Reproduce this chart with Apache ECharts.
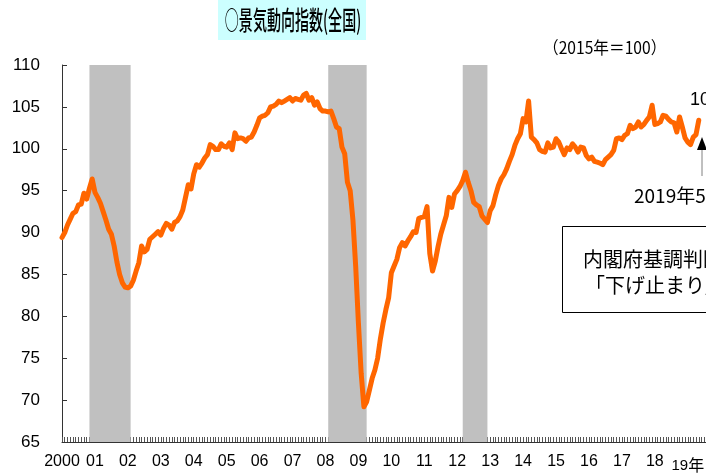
<!DOCTYPE html>
<html>
<head>
<meta charset="utf-8">
<script src="https://cdn.jsdelivr.net/npm/echarts@6/dist/echarts.min.js"></script>
<style>
  html, body { margin: 0; padding: 0; background: #fff; }
  #chart { width: 706px; height: 476px; }
</style>
</head>
<body>
<div id="chart"></div>
<script>
// 景気動向指数 CI一致指数 (2015年=100), monthly, 2000/01 - 2019/05
const y2000 = [89.4, 90.0, 90.9, 91.6, 92.3, 92.5, 93.3, 93.4, 94.7, 94.0, 95.3, 96.4]
const y2001 = [94.8, 94.2, 93.5, 92.5, 91.5, 90.4, 89.8, 88.4, 86.5, 85.0, 84.0, 83.5]
const y2002 = [83.4, 83.6, 84.3, 85.4, 86.4, 88.4, 87.7, 88.0, 89.2, 89.5, 89.8, 90.1]
const y2003 = [89.7, 90.5, 91.1, 90.9, 90.4, 91.2, 91.4, 91.9, 92.7, 94.2, 95.7, 95.2]
const y2004 = [97.0, 98.1, 97.8, 98.3, 98.9, 99.3, 100.5, 100.3, 99.9, 99.9, 100.6, 100.3]
const y2005 = [100.2, 100.7, 99.9, 101.9, 101.2, 101.3, 101.2, 100.9, 101.3, 101.4, 102.0, 102.8]
const y2006 = [103.7, 103.9, 104.0, 104.3, 105.0, 105.1, 105.3, 105.7, 105.5, 105.7, 105.9, 106.1]
const y2007 = [105.7, 106.0, 105.9, 105.8, 106.4, 106.6, 105.8, 106.1, 105.2, 105.6, 104.8, 104.5]
const y2008 = [104.5, 104.4, 104.5, 103.6, 102.6, 102.4, 100.2, 99.4, 96.0, 95.0, 91.5, 86.0]
const y2009 = [79.2, 73.2, 69.2, 69.8, 71.2, 72.6, 73.6, 75.0, 77.3, 79.2, 80.8, 82.2]
const y2010 = [85.2, 86.0, 86.8, 88.2, 88.8, 88.4, 89.0, 89.5, 90.1, 90.0, 91.7, 91.8]
const y2011 = [91.9, 93.1, 87.5, 85.4, 86.6, 88.3, 89.8, 90.9, 92.0, 94.2, 93.0, 94.6]
const y2012 = [95.0, 95.5, 96.2, 97.2, 96.0, 95.0, 93.6, 93.3, 93.1, 92.0, 91.6, 91.2]
const y2013 = [92.6, 93.2, 94.5, 95.6, 96.4, 96.9, 97.6, 98.5, 99.3, 100.4, 101.2, 101.8]
const y2014 = [103.6, 103.2, 105.7, 101.4, 101.1, 100.7, 99.9, 99.7, 99.6, 100.7, 100.1, 100.2]
const y2015 = [101.2, 100.8, 100.0, 99.3, 100.1, 99.9, 100.6, 100.2, 99.6, 100.2, 100.1, 99.2]
const y2016 = [98.8, 99.0, 98.5, 98.4, 98.3, 98.1, 98.7, 99.0, 99.3, 99.8, 101.2, 101.3]
const y2017 = [101.1, 101.6, 101.8, 102.8, 102.4, 102.6, 103.2, 102.6, 102.9, 103.4, 103.8, 105.2]
const y2018 = [102.9, 103.0, 103.2, 104.0, 103.9, 103.5, 103.2, 103.1, 102.0, 103.8, 102.6, 101.3]
const y2019 = [100.8, 100.5, 101.4, 101.7, 103.4]

const values = [].concat(y2000, y2001, y2002, y2003, y2004, y2005, y2006, y2007, y2008, y2009,
  y2010, y2011, y2012, y2013, y2014, y2015, y2016, y2017, y2018, y2019)

// x軸の年ラベル
const yearLabels = ['2000', '01', '02', '03', '04', '05', '06', '07', '08', '09',
  '10', '11', '12', '13', '14', '15', '16', '17', '18', '19年']

// 景気後退期 (山 - 谷)
const recessions = [['2000-11', '2002-02'], ['2008-02', '2009-04'], ['2012-03', '2012-12']]

const months = []
for (let y = 2000; y <= 2019; y++) {
  for (let m = 1; m <= 12; m++) {
    if (months.length < 236) months.push(y + '-' + (m < 10 ? '0' + m : m))
  }
}

const JP = '"Noto Sans CJK JP", sans-serif'
const NUM = '"Liberation Sans Narrow", "Liberation Sans", Arial, sans-serif'

const chart = echarts.init(document.getElementById('chart'), null, { renderer: 'canvas' })
chart.setOption({
  animation: false,
  // the right end of the axis runs past the picture edge (cropped original)
  grid: { left: 62, right: -1, top: 65, bottom: 34, outerBoundsMode: 'none' },
  xAxis: {
    type: 'category',
    data: months,
    boundaryGap: false,
    axisLine: { lineStyle: { color: '#333', width: 1 } },
    axisTick: { show: true, interval: 0, inside: true, length: 5, lineStyle: { color: '#555' } },
    axisLabel: {
      interval: (i) => i % 12 === 0,
      margin: 12,
      color: '#000',
      fontSize: 16,
      fontFamily: NUM,
      formatter: (v, i) => {
        const t = yearLabels[Math.floor(i / 12)]
        return t === '19年' ? '{s|19}{k|年}' : t
      },
      rich: {
        s: { fontSize: 15, fontFamily: NUM, padding: [4, 0, 0, 0] },
        k: { fontSize: 16, fontFamily: JP, padding: [3, 0, 0, 0] }
      }
    },
    splitLine: { show: false }
  },
  yAxis: {
    type: 'value',
    min: 65,
    max: 110,
    interval: 5,
    axisLine: { show: true, lineStyle: { color: '#333', width: 1 } },
    axisTick: { show: true, inside: true, length: 5, lineStyle: { color: '#333' } },
    axisLabel: { color: '#000', fontSize: 17, fontFamily: NUM, margin: 22 },
    splitLine: { show: false }
  },
  series: [{
    type: 'line',
    data: values,
    showSymbol: false,
    lineStyle: { color: '#ff6600', width: 5, cap: 'round', join: 'round' },
    itemStyle: { color: '#ff6600' },
    markArea: {
      silent: true,
      itemStyle: { color: '#c0c0c0', opacity: 1 },
      data: recessions.map(r => [{ xAxis: r[0] }, { xAxis: r[1] }])
    }
  }],
  graphic: [
    { type: 'rect', shape: { x: 218, y: 0, width: 148, height: 40 }, style: { fill: '#ccffff' } },
    {
      type: 'text', x: 293, y: 20, scaleX: 0.54,
      style: { text: '○景気動向指数(全国)', font: '500 26px ' + JP, fill: '#000', align: 'center', verticalAlign: 'middle' }
    },
    {
      type: 'text', x: 543, y: 48, scaleX: 0.92,
      style: { text: '（2015年＝100）', font: '17px ' + JP, fill: '#000', align: 'left', verticalAlign: 'middle' }
    },
    {
      type: 'text', x: 690, y: 100,
      style: { text: '103.2', font: '18px ' + NUM, fill: '#000', align: 'left', verticalAlign: 'middle' }
    },
    { type: 'polygon', shape: { points: [[697, 150], [707, 150], [702, 137]] }, style: { fill: '#000' } },
    { type: 'line', shape: { x1: 702, y1: 150, x2: 702, y2: 176 }, style: { stroke: '#808080', lineWidth: 1 } },
    {
      type: 'text', x: 634, y: 196,
      style: { text: '2019年5月', font: '19px ' + JP, fill: '#000', align: 'left', verticalAlign: 'middle' }
    },
    {
      type: 'rect', shape: { x: 562.5, y: 226.5, width: 200, height: 86 },
      style: { fill: '#fff', stroke: '#000', lineWidth: 1 }
    },
    {
      type: 'text', x: 583, y: 259,
      style: { text: '内閣府基調判断', font: '20px ' + JP, fill: '#000', align: 'left', verticalAlign: 'middle' }
    },
    {
      type: 'text', x: 585, y: 285,
      style: { text: '「下げ止まり」', font: '20px ' + JP, fill: '#000', align: 'left', verticalAlign: 'middle' }
    }
  ]
})
</script>
</body>
</html>
